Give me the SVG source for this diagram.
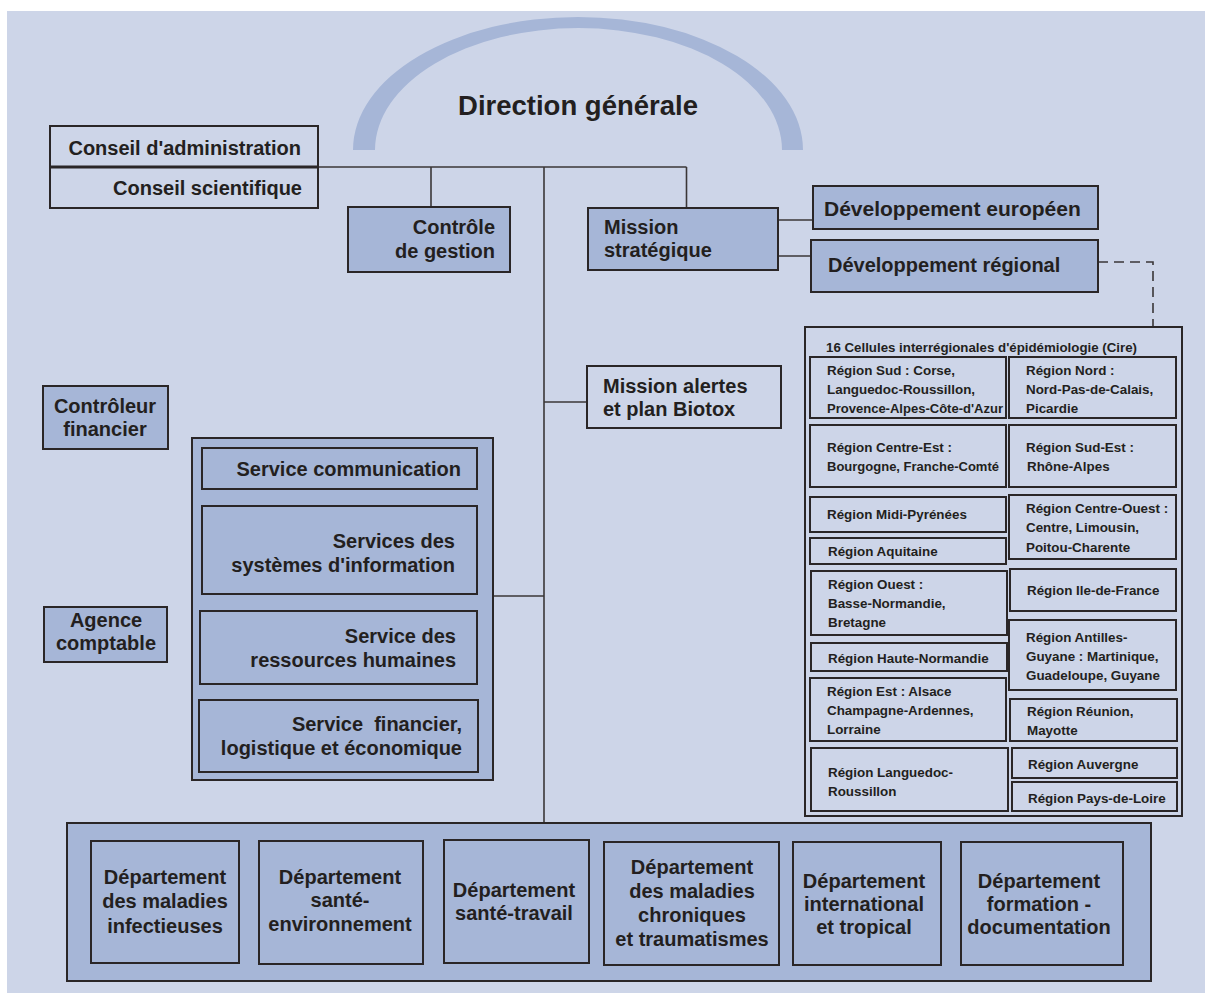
<svg xmlns="http://www.w3.org/2000/svg" width="1205" height="993" viewBox="0 0 1205 993">
<style>
.bg{fill:#cdd5e8}
.box{fill:#a6b6d7;stroke:#2a2627;stroke-width:2}
.lbox{fill:#cdd5e8;stroke:#2a2627;stroke-width:2}
.conn{stroke:#3a3637;stroke-width:1.6;fill:none}
text{font-family:"Liberation Sans",Arial,sans-serif;font-weight:bold;fill:#231f20}
.t20{font-size:20px}
.t13{font-size:13.4px}
.mid{text-anchor:middle}
.end{text-anchor:end}
</style>
<rect class="bg" x="7" y="11" width="1198" height="982"/>
<g id="direction-generale">
<path d="M353,150 A225,133 0 0 1 803,150 L782,150 A203.5,122 0 0 0 375,150 Z" fill="#a6b6d7"/>
<text x="578" y="115" class="mid" font-size="27.5">Direction générale</text>
</g>
<g id="connectors">
<line class="conn" x1="318" y1="167" x2="686.5" y2="167"/>
<line class="conn" x1="431" y1="167" x2="431" y2="207"/>
<line class="conn" x1="686.5" y1="167" x2="686.5" y2="208"/>
<line class="conn" x1="544" y1="167" x2="544" y2="823"/>
<line class="conn" x1="544" y1="402" x2="587" y2="402"/>
<line class="conn" x1="493" y1="596" x2="544" y2="596"/>
<line class="conn" x1="774" y1="220" x2="813" y2="220"/>
<line class="conn" x1="774" y1="256" x2="811" y2="256"/>
<path class="conn" d="M1098,262 H1153 V327" stroke-dasharray="10,6"/>
</g>
<g id="conseil">
<rect x="50" y="126" width="268" height="82" fill="none" stroke="#2a2627" stroke-width="2"/>
<line x1="50" y1="167" x2="318" y2="167" stroke="#2a2627" stroke-width="3"/>
<text x="301" y="155" class="t20 end">Conseil d'administration</text>
<text x="302" y="195" class="t20 end">Conseil scientifique</text>
</g>
<g id="controle-gestion">
<rect class="box" x="348" y="207" width="162" height="65"/>
<text x="495" y="234" class="t20 end">Contrôle</text>
<text x="495" y="258" class="t20 end">de gestion</text>
</g>
<g id="mission-strategique">
<rect class="box" x="588" y="208" width="190" height="62"/>
<text x="604" y="234" class="t20">Mission</text>
<text x="604" y="257" class="t20">stratégique</text>
</g>
<g id="dev-europeen">
<rect class="box" x="813" y="186" width="285" height="43"/>
<text x="824" y="216" font-size="21">Développement européen</text>
</g>
<g id="dev-regional">
<rect class="box" x="811" y="240" width="287" height="52"/>
<text x="828" y="272" class="t20">Développement régional</text>
</g>
<g id="mission-alertes">
<rect class="lbox" x="587" y="366" width="194" height="62"/>
<text x="603" y="393" class="t20">Mission alertes</text>
<text x="603" y="416" class="t20">et plan Biotox</text>
</g>
<g id="controleur-financier">
<rect class="box" x="43" y="386" width="125" height="63"/>
<text x="105" y="413" class="t20 mid">Contrôleur</text>
<text x="105" y="436" class="t20 mid">financier</text>
</g>
<g id="agence-comptable">
<rect class="box" x="44" y="607" width="123" height="55"/>
<text x="106" y="627" class="t20 mid">Agence</text>
<text x="106" y="650" class="t20 mid">comptable</text>
</g>
<g id="services">
<rect class="box" x="192" y="438" width="301" height="342"/>
<rect class="box" x="202" y="448" width="275" height="41"/>
<text x="461" y="476" class="t20 end">Service communication</text>
<rect class="box" x="202" y="506" width="275" height="88"/>
<text x="455" y="548" class="t20 end">Services des</text>
<text x="455" y="572" class="t20 end">systèmes d'information</text>
<rect class="box" x="200" y="611" width="277" height="73"/>
<text x="456" y="643" class="t20 end">Service des</text>
<text x="456" y="667" class="t20 end">ressources humaines</text>
<rect class="box" x="199" y="700" width="279" height="72"/>
<text x="462" y="731" class="t20 end" xml:space="preserve">Service  financier,</text>
<text x="462" y="755" class="t20 end">logistique et économique</text>
</g>
<g id="cire">
<rect class="lbox" x="805" y="327" width="377" height="489"/>
<text x="826" y="352" class="t13" textLength="311" lengthAdjust="spacingAndGlyphs">16 Cellules interrégionales d'épidémiologie (Cire)</text>
<g id="cire-sud">
<rect class="lbox" x="810" y="357" width="196" height="61"/>
<text x="827" y="375" class="t13">Région Sud : Corse,</text>
<text x="827" y="394" class="t13">Languedoc-Roussillon,</text>
<text x="827" y="413" class="t13" textLength="176" lengthAdjust="spacingAndGlyphs">Provence-Alpes-Côte-d'Azur</text>
</g>
<g id="cire-nord">
<rect class="lbox" x="1009" y="357" width="167" height="61"/>
<text x="1026" y="375" class="t13">Région Nord :</text>
<text x="1026" y="394" class="t13">Nord-Pas-de-Calais,</text>
<text x="1026" y="413" class="t13">Picardie</text>
</g>
<g id="cire-centre-est">
<rect class="lbox" x="810" y="425" width="196" height="62"/>
<text x="827" y="452" class="t13">Région Centre-Est :</text>
<text x="827" y="471" class="t13" textLength="172" lengthAdjust="spacingAndGlyphs">Bourgogne, Franche-Comté</text>
</g>
<g id="cire-sud-est">
<rect class="lbox" x="1009" y="425" width="167" height="62"/>
<text x="1026" y="452" class="t13">Région Sud-Est :</text>
<text x="1027" y="471" class="t13">Rhône-Alpes</text>
</g>
<g id="cire-midi-pyrenees">
<rect class="lbox" x="810" y="497" width="196" height="35"/>
<text x="827" y="519" class="t13">Région Midi-Pyrénées</text>
</g>
<g id="cire-aquitaine">
<rect class="lbox" x="810" y="538" width="196" height="26"/>
<text x="828" y="556" class="t13">Région Aquitaine</text>
</g>
<g id="cire-centre-ouest">
<rect class="lbox" x="1009" y="495" width="167" height="64"/>
<text x="1026" y="513" class="t13">Région Centre-Ouest :</text>
<text x="1026" y="532" class="t13">Centre, Limousin,</text>
<text x="1026" y="552" class="t13">Poitou-Charente</text>
</g>
<g id="cire-ouest">
<rect class="lbox" x="811" y="571" width="196" height="64"/>
<text x="828" y="589" class="t13">Région Ouest :</text>
<text x="828" y="608" class="t13">Basse-Normandie,</text>
<text x="828" y="627" class="t13">Bretagne</text>
</g>
<g id="cire-ile-de-france">
<rect class="lbox" x="1010" y="569" width="166" height="42"/>
<text x="1027" y="595" class="t13">Région Ile-de-France</text>
</g>
<g id="cire-haute-normandie">
<rect class="lbox" x="811" y="643" width="196" height="28"/>
<text x="828" y="663" class="t13">Région Haute-Normandie</text>
</g>
<g id="cire-antilles">
<rect class="lbox" x="1009" y="620" width="167" height="70"/>
<text x="1026" y="642" class="t13">Région Antilles-</text>
<text x="1026" y="661" class="t13">Guyane : Martinique,</text>
<text x="1026" y="680" class="t13">Guadeloupe, Guyane</text>
</g>
<g id="cire-est">
<rect class="lbox" x="810" y="678" width="196" height="63"/>
<text x="827" y="696" class="t13">Région Est : Alsace</text>
<text x="827" y="715" class="t13">Champagne-Ardennes,</text>
<text x="827" y="734" class="t13">Lorraine</text>
</g>
<g id="cire-reunion">
<rect class="lbox" x="1010" y="699" width="167" height="42"/>
<text x="1027" y="716" class="t13">Région Réunion,</text>
<text x="1027" y="735" class="t13">Mayotte</text>
</g>
<g id="cire-languedoc">
<rect class="lbox" x="811" y="748" width="197" height="63"/>
<text x="828" y="777" class="t13">Région Languedoc-</text>
<text x="828" y="796" class="t13">Roussillon</text>
</g>
<g id="cire-auvergne">
<rect class="lbox" x="1012" y="748" width="165" height="30"/>
<text x="1028" y="769" class="t13">Région Auvergne</text>
</g>
<g id="cire-pays-de-loire">
<rect class="lbox" x="1012" y="782" width="165" height="29"/>
<text x="1028" y="803" class="t13">Région Pays-de-Loire</text>
</g>
</g>
<g id="departements">
<rect class="box" x="67" y="823" width="1084" height="158"/>
<g id="dep-infectieuses">
<rect class="box" x="91" y="841" width="148" height="122"/>
<text x="165" y="884" class="t20 mid">Département</text>
<text x="165" y="908" class="t20 mid">des maladies</text>
<text x="165" y="933" class="t20 mid">infectieuses</text>
</g>
<g id="dep-sante-environnement">
<rect class="box" x="259" y="841" width="164" height="123"/>
<text x="340" y="884" class="t20 mid">Département</text>
<text x="340" y="907" class="t20 mid">santé-</text>
<text x="340" y="931" class="t20 mid">environnement</text>
</g>
<g id="dep-sante-travail">
<rect class="box" x="444" y="840" width="145" height="123"/>
<text x="514" y="897" class="t20 mid">Département</text>
<text x="514" y="920" class="t20 mid">santé-travail</text>
</g>
<g id="dep-chroniques">
<rect class="box" x="604" y="842" width="175" height="123"/>
<text x="692" y="874" class="t20 mid">Département</text>
<text x="692" y="898" class="t20 mid">des maladies</text>
<text x="692" y="922" class="t20 mid">chroniques</text>
<text x="692" y="946" class="t20 mid">et traumatismes</text>
</g>
<g id="dep-international">
<rect class="box" x="793" y="842" width="148" height="123"/>
<text x="864" y="888" class="t20 mid">Département</text>
<text x="864" y="911" class="t20 mid">international</text>
<text x="864" y="934" class="t20 mid">et tropical</text>
</g>
<g id="dep-formation">
<rect class="box" x="961" y="842" width="162" height="123"/>
<text x="1039" y="888" class="t20 mid">Département</text>
<text x="1039" y="911" class="t20 mid">formation -</text>
<text x="1039" y="934" class="t20 mid">documentation</text>
</g>
</g>
</svg>
